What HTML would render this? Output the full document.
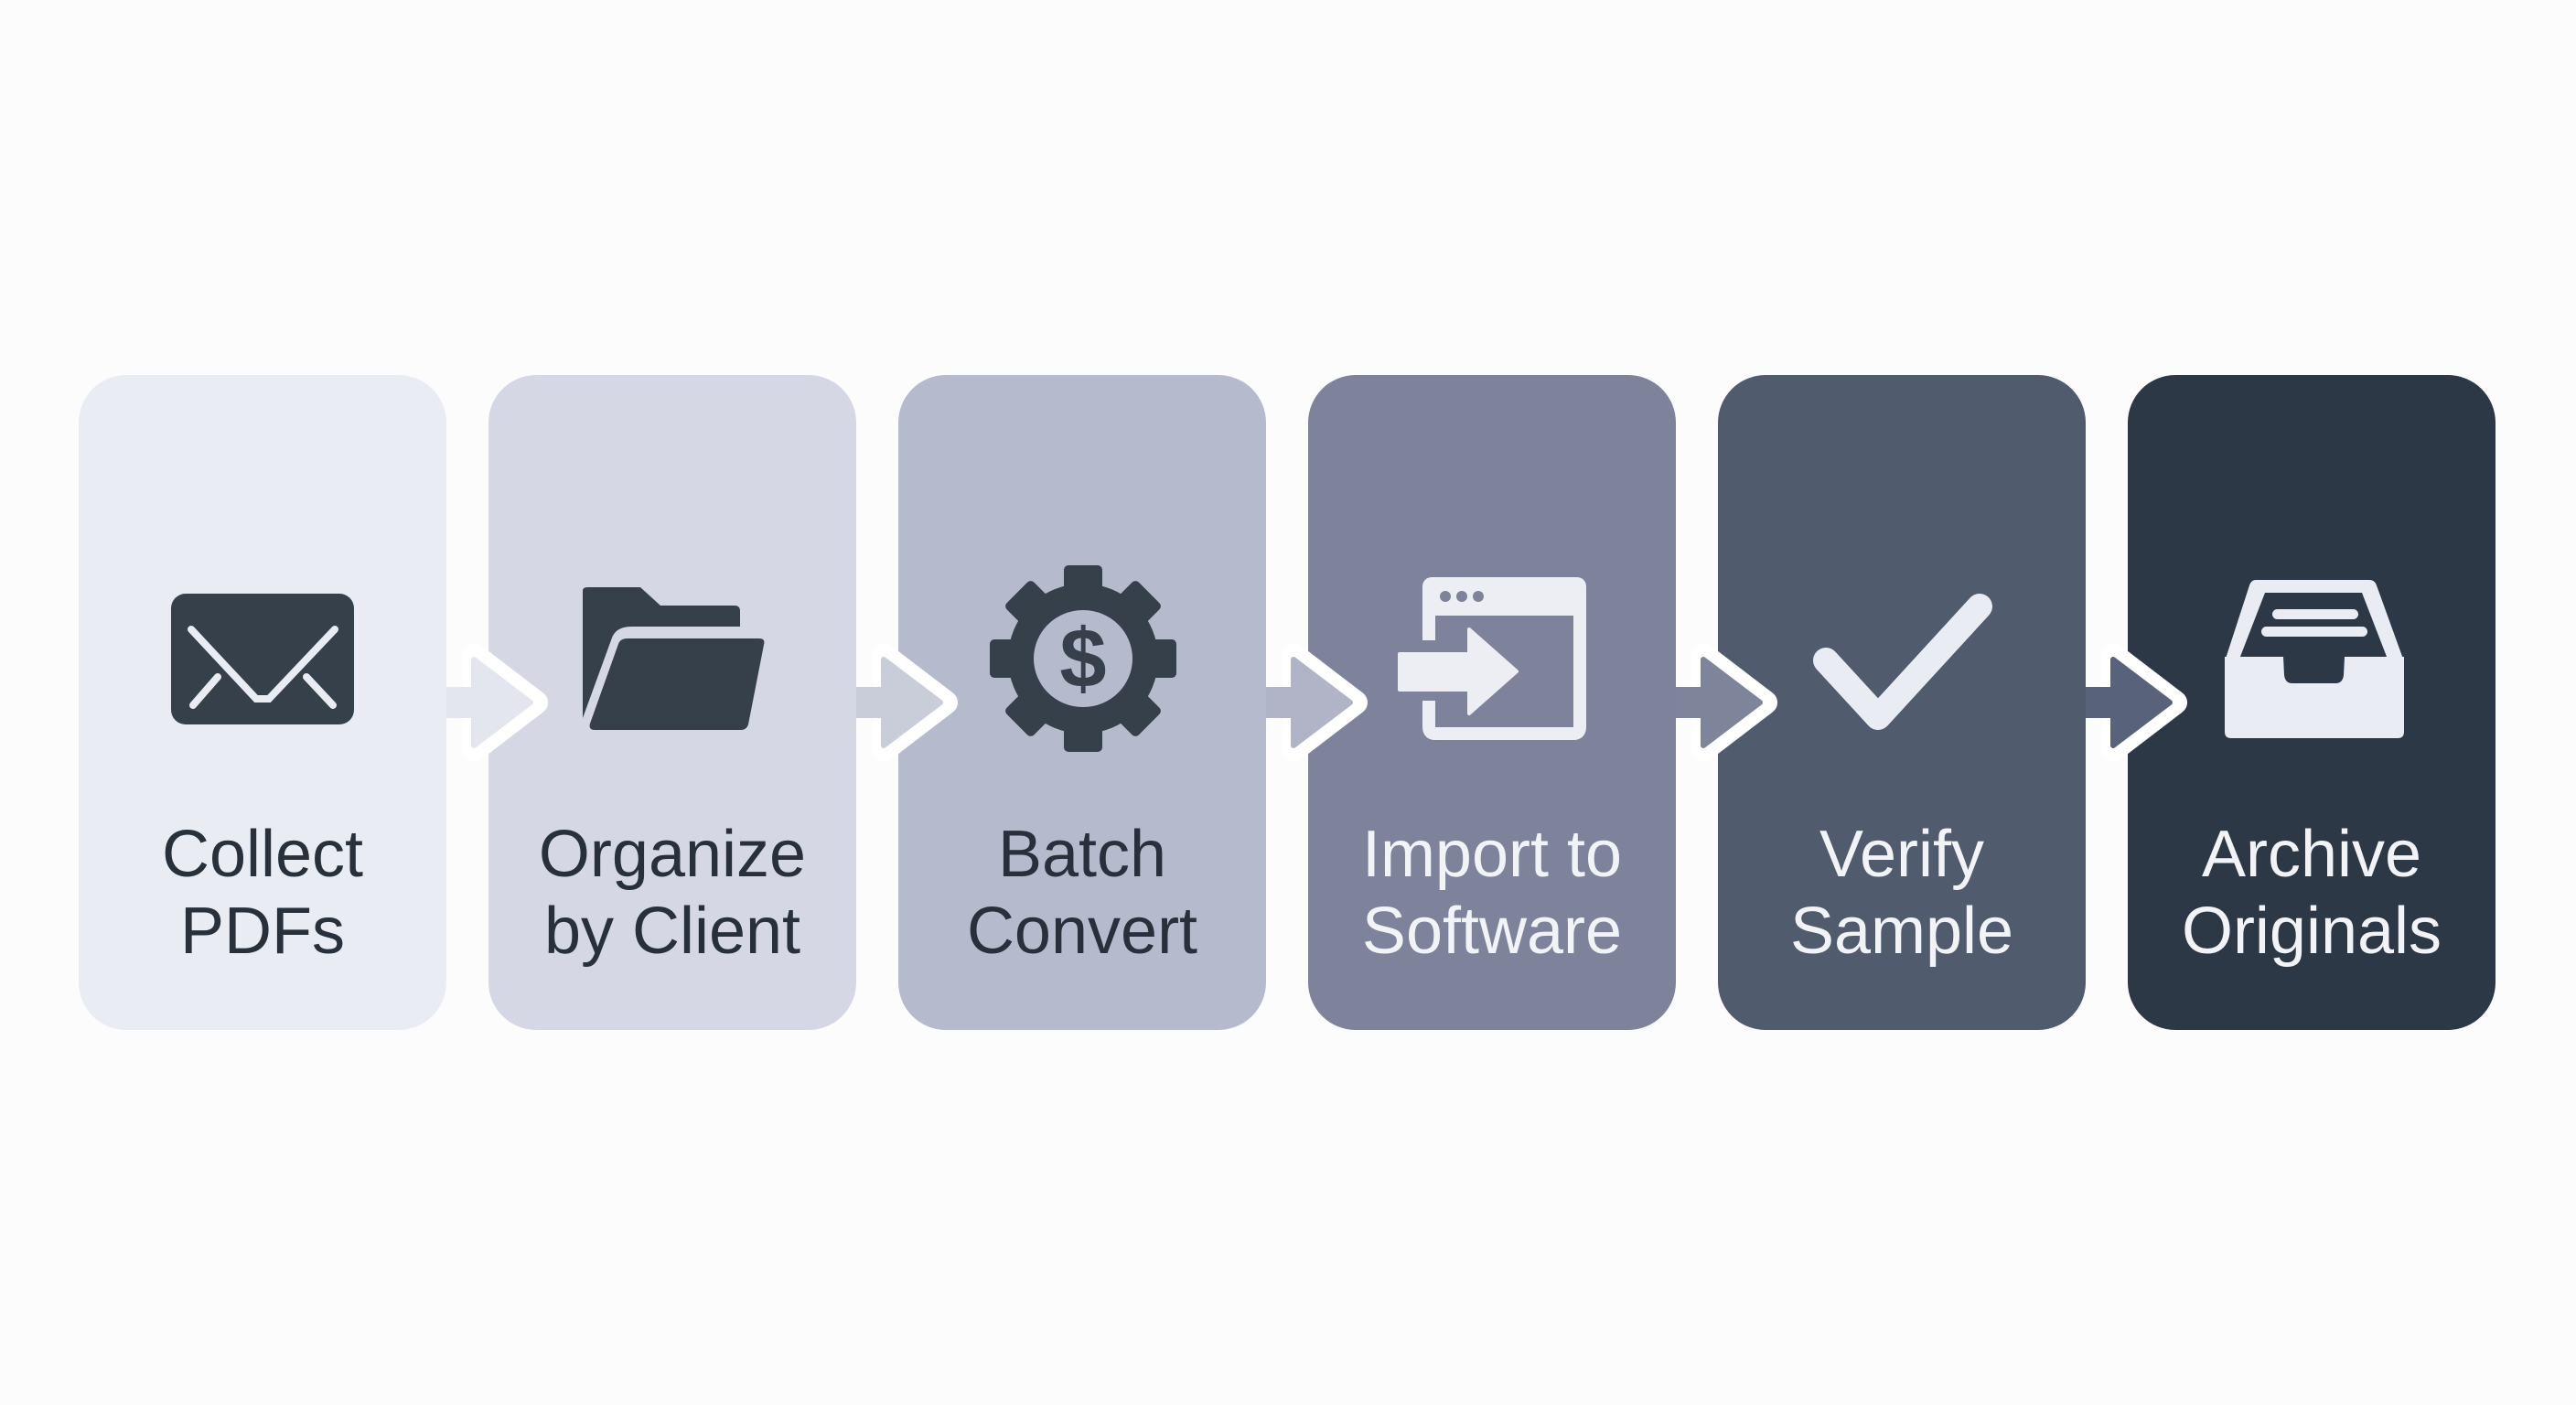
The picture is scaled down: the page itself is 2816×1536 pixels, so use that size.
<!DOCTYPE html>
<html><head><meta charset="utf-8"><style>
html,body{margin:0;padding:0;background:#fcfcfd;}
svg{display:block}
text{font-family:"Liberation Sans",sans-serif;font-size:72px;text-anchor:middle}
</style></head><body>
<svg width="2816" height="1536" viewBox="0 0 2816 1536" xmlns="http://www.w3.org/2000/svg">
<rect width="2816" height="1536" fill="#fcfcfd"/>
<!-- boxes -->
<rect x="86" y="410" width="402" height="716" rx="52" fill="#e9ecf3"/>
<rect x="534" y="410" width="402" height="716" rx="52" fill="#d5d8e4"/>
<rect x="982" y="410" width="402" height="716" rx="52" fill="#b6bacd"/>
<rect x="1430" y="410" width="402" height="716" rx="52" fill="#7e839b"/>
<rect x="1878" y="410" width="402" height="716" rx="52" fill="#505b6d"/>
<rect x="2326" y="410" width="402" height="716" rx="52" fill="#2d3846"/>
<!-- arrows -->
<g stroke-linejoin="round">
<g transform="translate(0,0)">
<polygon points="518,716 586,768 518,820" fill="#fff" stroke="#fff" stroke-width="26"/>
<rect x="488" y="751" width="36" height="34" fill="#e3e6ee"/>
<polygon points="518,721 580,768 518,815" fill="#e3e6ee" stroke="#e3e6ee" stroke-width="6"/>
</g>
<g transform="translate(448,0)">
<polygon points="518,716 586,768 518,820" fill="#fff" stroke="#fff" stroke-width="26"/>
<rect x="488" y="751" width="36" height="34" fill="#c9ccd9"/>
<polygon points="518,721 580,768 518,815" fill="#c9ccd9" stroke="#c9ccd9" stroke-width="6"/>
</g>
<g transform="translate(896,0)">
<polygon points="518,716 586,768 518,820" fill="#fff" stroke="#fff" stroke-width="26"/>
<rect x="488" y="751" width="36" height="34" fill="#b0b4c6"/>
<polygon points="518,721 580,768 518,815" fill="#b0b4c6" stroke="#b0b4c6" stroke-width="6"/>
</g>
<g transform="translate(1344,0)">
<polygon points="518,716 586,768 518,820" fill="#fff" stroke="#fff" stroke-width="26"/>
<rect x="488" y="751" width="36" height="34" fill="#7e849a"/>
<polygon points="518,721 580,768 518,815" fill="#7e849a" stroke="#7e849a" stroke-width="6"/>
</g>
<g transform="translate(1792,0)">
<polygon points="518,716 586,768 518,820" fill="#fff" stroke="#fff" stroke-width="26"/>
<rect x="488" y="751" width="36" height="34" fill="#58627a"/>
<polygon points="518,721 580,768 518,815" fill="#58627a" stroke="#58627a" stroke-width="6"/>
</g>
</g>
<!-- envelope -->
<rect x="187" y="649" width="200" height="143" rx="16" fill="#36404b"/>
<g stroke="#e9ecf3" stroke-width="8" stroke-linecap="round" fill="none">
<polyline points="209,688 280,764 294,764 366,688"/>
<line x1="211" y1="771" x2="238" y2="740"/>
<line x1="364" y1="771" x2="335" y2="740"/>
</g>
<!-- folder -->
<path d="M637,646 Q637,642 642,642 L700,642 L722,662 L803,662 Q809,662 809,668 L809,685 L690,685 Q672,685 668,700 L637,785 Z" fill="#36404b"/>
<path d="M676,704 Q678,698 686,698 L830,698 Q837,698 835,705 L818,792 Q816,798 810,798 L650,798 Q643,798 645,791 Z" fill="#36404b"/>
<!-- gear -->
<g transform="translate(1184,720)" fill="#36404b">
<circle r="82"/>
<g id="t"><rect x="-21" y="-102" width="42" height="40" rx="5"/></g>
<use href="#t" transform="rotate(45)"/>
<use href="#t" transform="rotate(90)"/>
<use href="#t" transform="rotate(135)"/>
<use href="#t" transform="rotate(180)"/>
<use href="#t" transform="rotate(225)"/>
<use href="#t" transform="rotate(270)"/>
<use href="#t" transform="rotate(315)"/>
<ellipse rx="54" ry="53" fill="#b6bacd"/>
</g>
<text x="1184" y="751" font-weight="bold" fill="#36404b" style="font-size:92px">$</text>
<!-- import icon -->
<g fill="none" stroke="#eceef4" stroke-width="14" stroke-linejoin="round">
<path d="M1562,700 L1562,645 Q1562,638 1569,638 L1720,638 Q1727,638 1727,645 L1727,795 Q1727,802 1720,802 L1569,802 Q1562,802 1562,795 L1562,766"/>
</g>
<rect x="1555" y="631" width="179" height="42" rx="10" fill="#eceef4"/>
<circle cx="1580" cy="652" r="6" fill="#7e839b"/>
<circle cx="1598" cy="652" r="6" fill="#7e839b"/>
<circle cx="1616" cy="652" r="6" fill="#7e839b"/>
<polygon points="1530,715 1606,715 1606,688 1658,734 1606,780 1606,754 1530,754" fill="#eceef4" stroke="#eceef4" stroke-width="4" stroke-linejoin="round"/>
<!-- check -->
<polyline points="1996,722 2053,784 2164,663" fill="none" stroke="#e9ecf3" stroke-width="28" stroke-linecap="round" stroke-linejoin="round"/>
<!-- archive tray -->
<path d="M2466,634 L2590,634 Q2596,634 2598,640 L2628,723 L2432,723 L2459,640 Q2461,634 2466,634 Z" fill="#e9ecf3"/>
<path d="M2476,648 L2582,648 L2611,723 L2447,723 Z" fill="#2d3846"/>
<rect x="2484" y="666" width="94" height="11" rx="5.5" fill="#e9ecf3"/>
<rect x="2472" y="685" width="116" height="11" rx="5.5" fill="#e9ecf3"/>
<path d="M2432,718 L2496,718 L2497,738 Q2498,747 2506,747 L2553,747 Q2561,747 2562,738 L2563,718 L2628,718 L2628,800 Q2628,807 2621,807 L2439,807 Q2432,807 2432,800 Z" fill="#e9ecf3"/>
<!-- labels -->
<g fill="#27303b">
<text x="287" y="958">Collect</text><text x="287" y="1042">PDFs</text>
<text x="735" y="958">Organize</text><text x="735" y="1042">by Client</text>
<text x="1183" y="958">Batch</text><text x="1183" y="1042">Convert</text>
</g>
<g fill="#f1f3f7">
<text x="1631" y="958">Import to</text><text x="1631" y="1042">Software</text>
<text x="2079" y="958">Verify</text><text x="2079" y="1042">Sample</text>
<text x="2527" y="958">Archive</text><text x="2527" y="1042">Originals</text>
</g>
</svg>
</body></html>
